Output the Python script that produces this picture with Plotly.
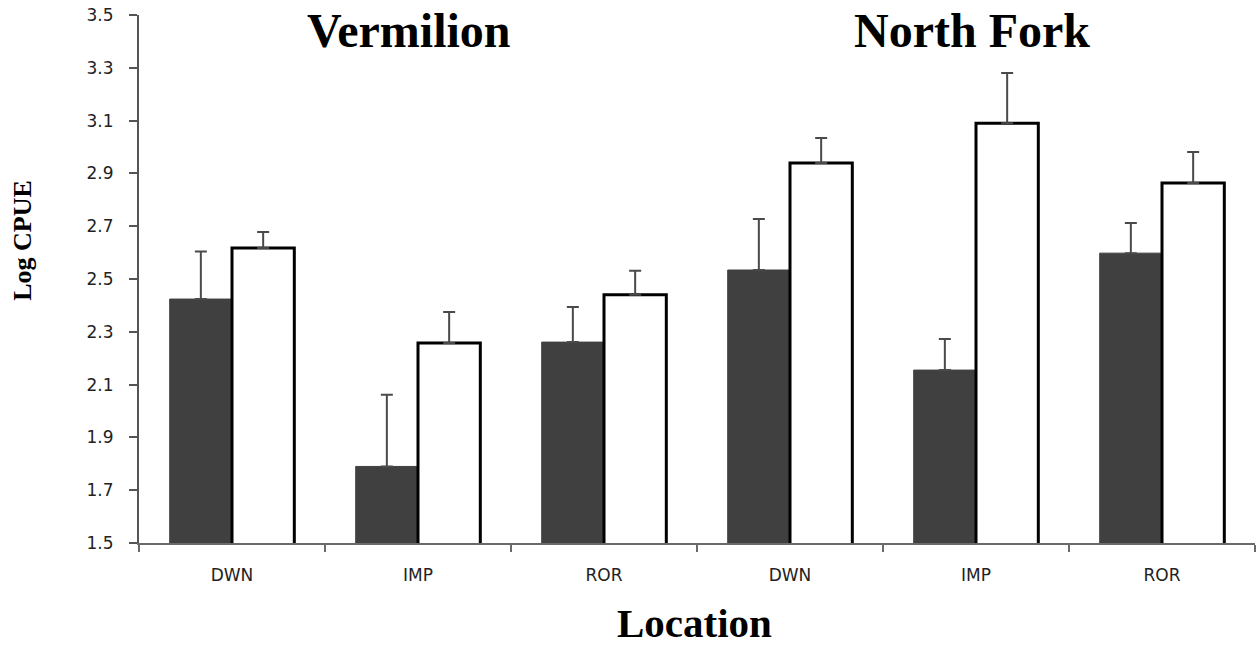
import plotly.graph_objects as go

categories = ["DWN", "IMP", "ROR", "DWN", "IMP", "ROR"]
groups = ["Vermilion", "North Fork"]
dark_values = [2.424, 1.790, 2.261, 2.534, 2.155, 2.598]
dark_errors = [0.180, 0.272, 0.133, 0.193, 0.118, 0.114]
white_values = [2.617, 2.258, 2.440, 2.939, 3.090, 2.864]
white_errors = [0.061, 0.117, 0.091, 0.095, 0.190, 0.117]
y_ticks = [1.5, 1.7, 1.9, 2.1, 2.3, 2.5, 2.7, 2.9, 3.1, 3.3, 3.5]

x = list(range(len(categories)))
err_color = "#4a4a4a"

fig = go.Figure()
fig.add_trace(go.Bar(
    x=x, y=dark_values, name="dark",
    marker=dict(color="#404040", line=dict(color="#404040", width=1)),
    error_y=dict(type="data", symmetric=False, array=dark_errors,
                 arrayminus=[0] * len(dark_errors),
                 color=err_color, thickness=2, width=6),
))
fig.add_trace(go.Bar(
    x=x, y=white_values, name="white",
    marker=dict(color="#ffffff", line=dict(color="#000000", width=3)),
    error_y=dict(type="data", symmetric=False, array=white_errors,
                 arrayminus=[0] * len(white_errors),
                 color=err_color, thickness=2, width=6),
))

tick_font = dict(family="DejaVu Sans", size=17, color="#222222")
fig.update_layout(
    width=1257, height=647,
    margin=dict(l=139, r=2, t=15, b=104),
    paper_bgcolor="white", plot_bgcolor="white",
    barmode="group", bargap=0.33, bargroupgap=0,
    showlegend=False,
    xaxis=dict(
        range=[-0.5, len(categories) - 0.5], automargin=False,
        tickvals=x, ticktext=categories, ticks="", tickfont=tick_font,
        showgrid=False, zeroline=False,
        showline=True, linecolor="#6a6a6a", linewidth=2,
        ticklabelstandoff=16,
        minor=dict(tickvals=[i - 0.5 for i in range(len(categories) + 1)],
                   ticks="outside", ticklen=7, tickcolor="#6a6a6a", tickwidth=1.5),
    ),
    yaxis=dict(
        range=[1.5, 3.5], tickvals=y_ticks, automargin=False,
        ticktext=[f"{v:.1f}" for v in y_ticks],
        ticks="outside", ticklen=8, tickcolor="#555555", tickwidth=2,
        tickfont=tick_font, ticklabelstandoff=12,
        ticklabeloverflow="allow",
        showgrid=False, zeroline=False,
        showline=True, linecolor="#555555", linewidth=2,
    ),
)

title_font = dict(family="Liberation Serif", size=48, color="black")
fig.add_annotation(text="<b>Vermilion</b>", x=0.95, y=0.97, xref="x", yref="paper",
                   showarrow=False, font=title_font, xanchor="center", yanchor="middle")
fig.add_annotation(text="<b>North Fork</b>", x=3.98, y=0.97, xref="x", yref="paper",
                   showarrow=False, font=title_font, xanchor="center", yanchor="middle")
fig.add_annotation(text="<b>Location</b>", x=0.498, y=-0.152, xref="paper", yref="paper",
                   showarrow=False, font=dict(family="Liberation Serif", size=41, color="black"),
                   xanchor="center", yanchor="middle")
fig.add_annotation(text="<b>Log CPUE</b>", x=-0.104, y=0.574, xref="paper", yref="paper",
                   showarrow=False, textangle=-90,
                   font=dict(family="Liberation Serif", size=26, color="black"),
                   xanchor="center", yanchor="middle")

fig.write_html("out.html", config={"displayModeBar": False},
               post_script="document.body.style.margin='0';")
